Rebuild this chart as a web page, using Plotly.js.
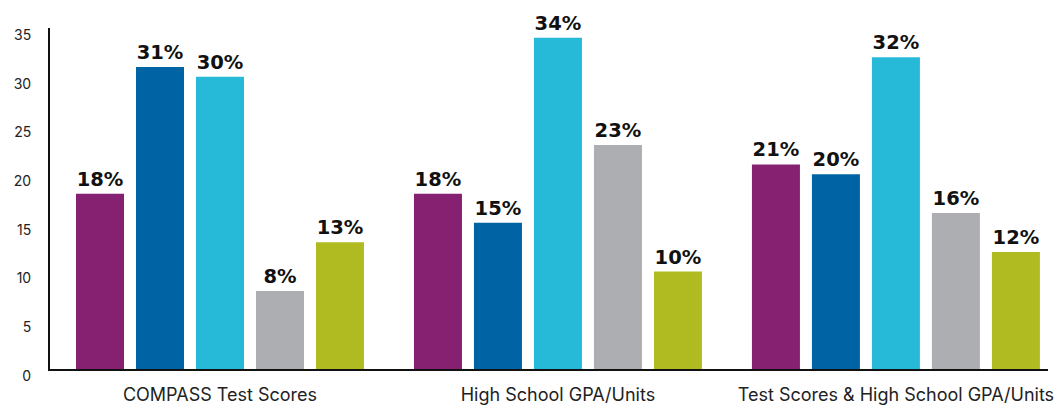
<!DOCTYPE html>
<html>
<head>
<meta charset="utf-8">
<script src="https://cdn.plot.ly/plotly-3.0.1.min.js"></script>
<style>
  html, body { margin: 0; padding: 0; background: #fff; }
  #chart { width: 1056px; height: 407px; }
</style>
</head>
<body>
<div id="chart"></div>
<script>
const categories = ["COMPASS Test Scores", "High School GPA/Units", "Test Scores & High School GPA/Units"];
const seriesA = [18, 18, 21];
const seriesB = [31, 15, 20];
const seriesC = [30, 34, 32];
const seriesD = [8, 23, 16];
const seriesE = [13, 10, 12];
const seriesColors = ["#862070", "#0063a3", "#27bad8", "#adaeb1", "#b0bb21"];
const yTicks = [0, 5, 10, 15, 20, 25, 30, 35];

const allSeries = [seriesA, seriesB, seriesC, seriesD, seriesE];
const traces = allSeries.map((vals, i) => ({
  type: "bar",
  x: categories,
  y: vals,
  marker: { color: seriesColors[i] },
  text: vals.map(v => v + "%"),
  textposition: "outside",
  cliponaxis: false,
  textfont: { family: "DejaVu Sans", size: 19.5, color: "#111", weight: "bold" },
  hoverinfo: "skip",
  showlegend: false
}));

const layout = {
  width: 1056, height: 407,
  margin: { l: 50, r: 8, t: 28, b: 38 },
  paper_bgcolor: "#fff", plot_bgcolor: "#fff",
  barmode: "group",
  bargap: 0.1124,
  bargroupgap: 0.2,
  showlegend: false,
  xaxis: {
    range: [-0.503, 2.45],
    showline: true, linecolor: "#111", linewidth: 2,
    showgrid: false, zeroline: false, ticks: "",
    tickfont: { family: "Inter", size: 18, color: "#222" },
    ticklabelstandoff: 8,
    fixedrange: true
  },
  yaxis: {
    range: [0, 35],
    tickvals: yTicks,
    ticktext: yTicks.map(String),
    showline: true, linecolor: "#111", linewidth: 2,
    showgrid: false, zeroline: false, ticks: "",
    tickfont: { family: "Inter", size: 14, color: "#222" },
    ticklabelstandoff: 14,
    ticklabelshift: 7,
    fixedrange: true
  }
};

Plotly.newPlot("chart", traces, layout, { displayModeBar: false, staticPlot: true });
</script>
</body>
</html>
